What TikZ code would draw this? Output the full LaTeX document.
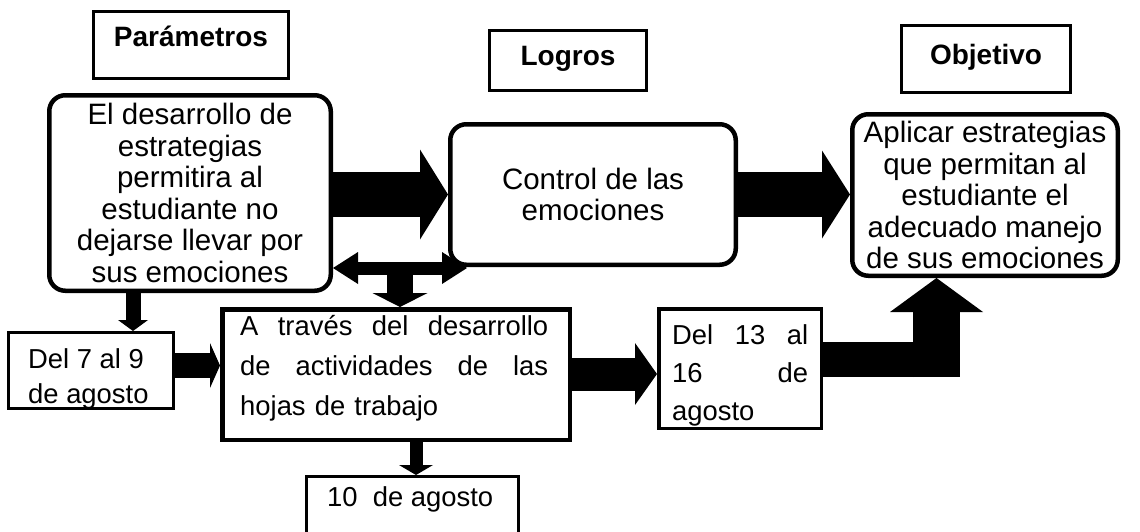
\documentclass[tikz,border=0pt]{standalone}
\usepackage{fontspec}
\setmainfont{Liberation Sans}
\usetikzlibrary{arrows.meta}

\begin{document}
\begin{tikzpicture}[x=1pt, y=-1pt,
    caja/.style={draw, line width=3pt, inner sep=0pt},
    cajar/.style={draw, line width=4.5pt, rounded corners=16pt, inner sep=0pt,
                  align=center, font=\fontsize{29.5}{31.5}\selectfont},
    titulo/.style={caja, font=\fontsize{28}{30}\selectfont\bfseries, text height=20pt},
    texto/.style={inner sep=0pt, align=left, font=\fontsize{27.4}{#1}\selectfont}]

    % Flecha de bloque: grosor, ancho punta, largo punta, desde, hasta
    \newcommand{\flecha}[5]{
        \draw[line width=#1, -{Triangle[width=#2, length=#3, line width=0pt]}] #4 -- #5;
    }

    \useasboundingbox (0,0) rectangle (1140,531);
    \clip (0,0) rectangle (1140,531);

    % -- Titulos --
    \node[titulo, minimum width=195pt, minimum height=67pt, text depth=17pt] (param) at (191,45) {Parámetros};
    \node[titulo, minimum width=157pt, minimum height=60pt, text depth=11pt] (logros) at (568,60.5) {Logros};
    \node[titulo, minimum width=169pt, minimum height=67pt, text depth=10pt] (objetivo) at (986,59) {Objetivo};

    % -- Cajas redondeadas --
    \node[cajar, minimum width=281.5pt, minimum height=195.5pt] (desarrollo) at (190,193)
        {El desarrollo de\\estrategias\\permitira al\\estudiante no\\dejarse llevar por\\sus emociones};
    \node[cajar, minimum width=285.5pt, minimum height=140.5pt] (control) at (593,194.5)
        {Control de las\\emociones};
    \node[cajar, minimum width=265.5pt, minimum height=161.5pt] (aplicar) at (985,195)
        {Aplicar estrategias\\que permitan al\\estudiante el\\adecuado manejo\\de sus emociones};

    % -- Cajas de fechas y actividades --
    \node[caja, minimum width=165pt, minimum height=76pt] (del7) at (91,370.5) {};
    \node[texto=35, anchor=north west] (del7txt) at (28,348.4) {Del 7 al 9\\de agosto};

    \node[caja, line width=4.5pt, minimum width=347.5pt, minimum height=130.5pt] (traves) at (396,374.5) {};
    \node[texto=40, text width=308pt, anchor=north west] (travestxt) at (240,315)
        {A\hfill través\hfill del\hfill desarrollo\\de\hfill actividades\hfill de\hfill las\\hojas de trabajo};

    \node[caja, line width=3.5pt, minimum width=162.5pt, minimum height=119.5pt] (del13) at (740,368.5) {};
    \node[texto=38, text width=136pt, anchor=north west] (del13txt) at (672,324.4)
        {Del\hfill 13\hfill al\\16\hfill de\\agosto};

    \node[caja, minimum width=212pt, minimum height=67pt] (diez) at (412.5,510) {};
    \node[texto=30, anchor=base west] (dieztxt) at (327,506) {10\ \ de agosto};

    % -- Flechas --
    \flecha{45pt}{90pt}{28pt}{(desarrollo.east |- control.west)}{(control.west)}
    \flecha{45pt}{88pt}{28pt}{(control.east)}{(aplicar.west |- control.east)}

    \coordinate (dblR) at (467,268);
    \coordinate (dblM) at (400,268);
    \draw[line width=13pt, {Triangle[width=32pt, length=25pt, line width=0pt]}-{Triangle[width=32pt, length=25pt, line width=0pt]}]
        (desarrollo.east |- dblR) -- (dblR);
    \flecha{26pt}{55pt}{14pt}{(dblM)}{(dblM |- traves.north)}

    \coordinate (b7) at (133,0);
    \flecha{15pt}{30pt}{11pt}{(desarrollo.south -| b7)}{(del7.north -| b7)}
    \coordinate (r7) at (0,365.5);
    \flecha{25pt}{45pt}{10pt}{(del7.east |- r7)}{(traves.west |- r7)}
    \coordinate (b10) at (416,0);
    \flecha{13pt}{34pt}{10pt}{(traves.south -| b10)}{(diez.north -| b10)}
    \coordinate (r13) at (0,374);
    \flecha{33pt}{62pt}{22pt}{(traves.east |- r13)}{(del13.west |- r13)}

    % Flecha doblada hacia el objetivo
    \coordinate (hb) at (960,359.5);
    \coordinate (codo) at (936.5,377);
    \draw[line width=35pt] (del13.east |- hb) -- (hb);
    \flecha{47pt}{93pt}{34pt}{(codo)}{(codo |- aplicar.south)}
\end{tikzpicture}
\end{document}
